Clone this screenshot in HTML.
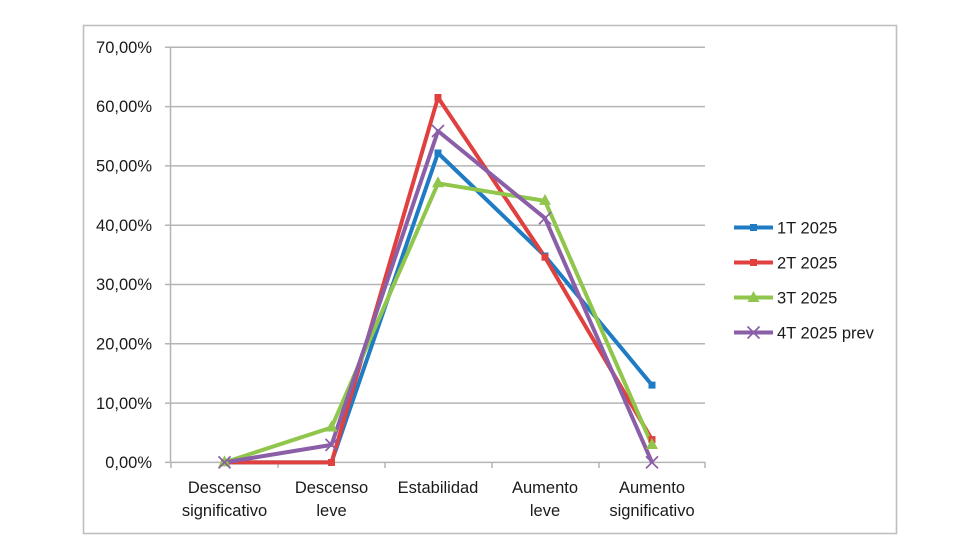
<!DOCTYPE html>
<html><head><meta charset="utf-8"><style>
html,body{margin:0;padding:0;background:#fff;}
svg{display:block;}
text{font-family:"Liberation Sans",sans-serif;fill:#1a1a1a;}
</style></head><body>
<svg width="980" height="560" viewBox="0 0 980 560" xmlns="http://www.w3.org/2000/svg">
<rect x="0" y="0" width="980" height="560" fill="#fff"/>
<rect x="83.5" y="25.5" width="813" height="508" fill="#fff" stroke="#bfbfbf" stroke-width="1.6"/>
<!-- gridlines -->
<g stroke="#b4b4b4" stroke-width="1.5">
<line x1="165" y1="47.3" x2="705" y2="47.3"/>
<line x1="165" y1="106.6" x2="705" y2="106.6"/>
<line x1="165" y1="165.9" x2="705" y2="165.9"/>
<line x1="165" y1="225.2" x2="705" y2="225.2"/>
<line x1="165" y1="284.5" x2="705" y2="284.5"/>
<line x1="165" y1="343.8" x2="705" y2="343.8"/>
<line x1="165" y1="403.1" x2="705" y2="403.1"/>
<line x1="165" y1="462.4" x2="705" y2="462.4"/>
<line x1="170.5" y1="47.3" x2="170.5" y2="462.4"/>
<line x1="171" y1="462" x2="171" y2="468"/>
<line x1="278" y1="462" x2="278" y2="468"/>
<line x1="385" y1="462" x2="385" y2="468"/>
<line x1="492" y1="462" x2="492" y2="468"/>
<line x1="599" y1="462" x2="599" y2="468"/>
<line x1="705" y1="462" x2="705" y2="468"/>
</g>
<!-- y labels -->
<g font-size="16.5" text-anchor="end">
<text x="152" y="53">70,00%</text>
<text x="152" y="112">60,00%</text>
<text x="152" y="171.5">50,00%</text>
<text x="152" y="231">40,00%</text>
<text x="152" y="290">30,00%</text>
<text x="152" y="349.5">20,00%</text>
<text x="152" y="409">10,00%</text>
<text x="152" y="468">0,00%</text>
</g>
<!-- x labels -->
<g font-size="16.5" text-anchor="middle">
<text x="224.5" y="493">Descenso</text>
<text x="224.5" y="516">significativo</text>
<text x="331.5" y="493">Descenso</text>
<text x="331.5" y="516">leve</text>
<text x="438" y="493">Estabilidad</text>
<text x="545" y="493">Aumento</text>
<text x="545" y="516">leve</text>
<text x="652" y="493">Aumento</text>
<text x="652" y="516">significativo</text>
</g>
<!-- series -->
<g fill="none" stroke-width="4" stroke-linejoin="round">
<polyline stroke="#1f7bc4" points="224.5,462.4 331.5,462.4 438,153 545,256 652,385.1"/>
<polyline stroke="#e0403e" points="224.5,462.4 331.5,462.4 438,97.5 545,257.2 652,439.6"/>
<polyline stroke="#8fc64b" points="224.5,462.4 331.5,427.5 438,183.3 545,200.9 652,445"/>
<polyline stroke="#8b5ea8" points="224.5,462.4 331.5,444.9 438,131 545,218.2 652,462.4"/>
</g>
<!-- markers -->
<g fill="#1f7bc4">
<rect x="221" y="459" width="7" height="7"/><rect x="328" y="459" width="7" height="7"/><rect x="434.5" y="149.5" width="7" height="7"/><rect x="541.5" y="252.5" width="7" height="7"/><rect x="648.5" y="381.6" width="7" height="7"/>
</g>
<g fill="#e0403e">
<rect x="221" y="459" width="7" height="7"/><rect x="328" y="459" width="7" height="7"/><rect x="434.5" y="94" width="7" height="7"/><rect x="541.5" y="253.7" width="7" height="7"/><rect x="648.5" y="436.1" width="7" height="7"/>
</g>
<g fill="#8fc64b">
<polygon points="224.5,455.4 230.5,466.4 218.5,466.4"/>
<polygon points="331.5,420.5 337.5,431.5 325.5,431.5"/>
<polygon points="438,176.3 444,187.3 432,187.3"/>
<polygon points="545,193.9 551,204.9 539,204.9"/>
<polygon points="652,438 658,449 646,449"/>
</g>
<g stroke="#8b5ea8" stroke-width="1.7">
<path d="M218.5,456.4l12,12M230.5,456.4l-12,12"/>
<path d="M325.5,438.9l12,12M337.5,438.9l-12,12"/>
<path d="M432,125l12,12M444,125l-12,12"/>
<path d="M539,212.2l12,12M551,212.2l-12,12"/>
<path d="M646,456.4l12,12M658,456.4l-12,12"/>
</g>
<!-- legend -->
<g stroke-width="4">
<line x1="734" y1="227.5" x2="773" y2="227.5" stroke="#1f7bc4"/>
<line x1="734" y1="262.5" x2="773" y2="262.5" stroke="#e0403e"/>
<line x1="734" y1="297.5" x2="773" y2="297.5" stroke="#8fc64b"/>
<line x1="734" y1="332.5" x2="773" y2="332.5" stroke="#8b5ea8"/>
</g>
<rect x="750" y="224" width="7" height="7" fill="#1f7bc4"/>
<rect x="750" y="259" width="7" height="7" fill="#e0403e"/>
<polygon points="753.5,291 759.5,302 747.5,302" fill="#8fc64b"/>
<path d="M747.5,326.5l12,12M759.5,326.5l-12,12" stroke="#8b5ea8" stroke-width="1.7"/>
<g font-size="16.5">
<text x="777" y="233.5">1T 2025</text>
<text x="777" y="268.5">2T 2025</text>
<text x="777" y="303.5">3T 2025</text>
<text x="777" y="338.5">4T 2025 prev</text>
</g>
</svg>
</body></html>
